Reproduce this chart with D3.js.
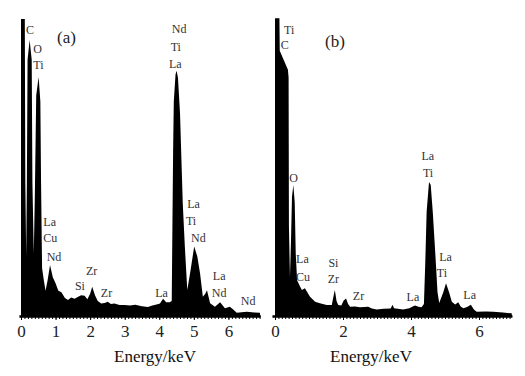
<!DOCTYPE html>
<html lang="en">
<head>
<meta charset="UTF-8" />
<title>EDS spectra</title>
<style>
  body { margin: 0; background: #fff; }
  svg text { font-family: "Liberation Serif", "Times New Roman", "DejaVu Serif", serif; }
  .peak { fill: #000; }
  .el { font-size: 12px; fill: #333; }
  .tag { font-size: 17px; fill: #222; }
  .axis path { stroke: #000; stroke-width: 2.5; }
  .axis line { stroke: #000; stroke-width: 1; }
  .axis text { font-size: 17px; fill: #222; }
  .xtitle { font-size: 17px; fill: #111; text-anchor: middle; }
</style>
</head>
<body>
<script src="https://cdn.jsdelivr.net/npm/d3@7"></script>
<script>
var serif = "Liberation Serif, Times New Roman, serif";

// spectrum (a): [energy keV, relative intensity]
var specA = [
  [0.00, 0], [0.00, 99.7], [0.11, 99.7], [0.125, 45], [0.15, 20], [0.17, 45],
  [0.19, 86], [0.25, 92.6], [0.31, 86], [0.33, 45], [0.37, 21], [0.40, 40],
  [0.44, 74], [0.51, 80.2], [0.56, 72], [0.58, 45], [0.61, 16],
  [0.66, 12], [0.71, 8.5], [0.77, 12], [0.84, 17.1], [0.92, 13], [1.00, 11],
  [1.08, 8.5], [1.17, 8.0], [1.27, 6.0], [1.36, 5.4], [1.45, 6.2], [1.55, 5.8],
  [1.64, 6.4], [1.74, 7.0], [1.84, 6.8], [1.92, 5.6], [2.00, 7.5], [2.06, 9.8],
  [2.14, 7.0], [2.22, 5.0], [2.32, 4.2], [2.42, 4.4], [2.51, 4.8], [2.60, 4.0],
  [2.70, 4.2], [2.85, 3.7], [3.00, 3.7], [3.15, 3.5], [3.30, 3.8], [3.50, 3.3],
  [3.67, 3.0], [3.80, 3.5], [3.92, 3.9], [4.02, 4.2], [4.11, 5.8], [4.20, 4.6],
  [4.30, 4.6], [4.36, 5], [4.38, 30], [4.40, 55], [4.42, 72], [4.47, 81],
  [4.50, 82.3], [4.54, 80], [4.60, 68], [4.65, 49], [4.68, 37.6], [4.74, 23.2],
  [4.81, 8.7], [4.89, 14.3], [5.01, 23.3], [5.10, 20], [5.18, 14.3], [5.26, 6.5],
  [5.33, 7.5], [5.38, 8.6], [5.47, 4.3], [5.61, 3.1], [5.76, 4.6], [5.90, 2.6],
  [6.04, 3.1], [6.14, 2.2], [6.24, 1.1], [6.53, 1.4], [6.75, 1.2], [6.91, 1.1],
  [6.92, 0]
];

// spectrum (b)
var specB = [
  [0.00, 0], [0.00, 99.9], [0.13, 99.9], [0.14, 89], [0.38, 82.6], [0.40, 80],
  [0.41, 30], [0.44, 13], [0.47, 25], [0.50, 40], [0.54, 44], [0.58, 38],
  [0.61, 21], [0.65, 12], [0.74, 9.8], [0.79, 8.7], [0.88, 9.3], [0.95, 8],
  [1.03, 6.5], [1.18, 4.8], [1.32, 4.3], [1.52, 3.7], [1.67, 3.7], [1.71, 6],
  [1.76, 8.7], [1.81, 5], [1.86, 3.7], [1.95, 3.5], [2.02, 5.2], [2.09, 5.9],
  [2.15, 4], [2.21, 3.1], [2.35, 3.2], [2.50, 2.9], [2.62, 3.0], [2.74, 3.1],
  [2.85, 2.5], [2.99, 2.2], [3.20, 2.4], [3.40, 2.5], [3.46, 3.8], [3.50, 2.6],
  [3.77, 2.2], [3.95, 2.6], [4.05, 3.2], [4.12, 3.5], [4.22, 3.1], [4.31, 2.9],
  [4.38, 4], [4.42, 18], [4.46, 35], [4.53, 45], [4.58, 44], [4.64, 35],
  [4.72, 20], [4.78, 8], [4.83, 4.4], [4.95, 8], [5.03, 11], [5.12, 8],
  [5.20, 4.8], [5.30, 3.9], [5.39, 4.6], [5.46, 3.2], [5.54, 2.6], [5.65, 3.0],
  [5.76, 3.8], [5.85, 2.2], [5.93, 1.4], [6.20, 1.5], [6.42, 1.4], [6.70, 1.2],
  [6.96, 0.9], [6.97, 0]
];

// element labels: [text, energy, intensity] (left edge, baseline)
var labelsA = [
  ["C", 0.145, 94.6], ["O", 0.356, 88.3], ["Ti", 0.356, 82.9],
  ["Nd", 4.36, 95.0], ["Ti", 4.33, 88.8], ["La", 4.28, 83.2],
  ["La", 0.645, 30.2], ["Cu", 0.645, 24.7], ["Nd", 0.743, 18.6],
  ["Zr", 1.88, 13.8], ["Si", 1.56, 8.7], ["Zr", 2.31, 6.4],
  ["La", 3.88, 6.5], ["La", 4.81, 36.2], ["Ti", 4.77, 30.5],
  ["Nd", 4.92, 24.9], ["La", 5.55, 12.1], ["Nd", 5.52, 6.4],
  ["Nd", 6.36, 3.7]
];
var labelsB = [
  ["Ti", 0.265, 94.6], ["C", 0.168, 89.6], ["La", 4.31, 52.3],
  ["Ti", 4.35, 46.6], ["O", 0.42, 45.0], ["La", 0.62, 17.8],
  ["Cu", 0.62, 11.7], ["Si", 1.57, 16.5], ["Zr", 1.55, 11.1],
  ["Zr", 2.29, 5.4], ["La", 3.87, 5.2], ["La", 4.83, 18.6],
  ["Ti", 4.76, 13.1], ["La", 5.54, 5.7]
];

var ticksA = [0, 1, 2, 3, 4, 5, 6];
var ticksB = [0, 2, 4, 6];
var minorTicks = d3.range(0, 70).map(function(i) { return i / 10; });

var svg = d3.select("body").append("svg")
  .attr("width", 525).attr("height", 376);

var y = d3.scaleLinear().domain([0, 100]).range([316, 18]);

function panel(spec, labels, majors, x0, pxPerKeV, lo, hi, tag, tagPos, titleX) {
  var x = d3.scaleLinear().domain([lo, hi])
    .range([x0 + lo * pxPerKeV, x0 + hi * pxPerKeV]);
  var g = svg.append("g");

  var area = d3.area()
    .x(function(d) { return x(d[0]); })
    .y0(y(0))
    .y1(function(d) { return y(d[1]); });

  g.append("path").attr("class", "peak").datum(spec).attr("d", area);

  // minor ticks + thick axis line
  g.append("g").attr("class", "axis")
    .attr("transform", "translate(0," + y(0) + ")")
    .call(d3.axisBottom(x).tickValues(minorTicks).tickSize(3)
      .tickSizeOuter(0).tickFormat(""));

  // integer labels
  var major = g.append("g").attr("class", "axis")
    .attr("transform", "translate(0," + y(0) + ")")
    .call(d3.axisBottom(x).tickValues(majors).tickSize(4).tickPadding(5)
      .tickFormat(d3.format("d")));
  major.select(".domain").remove();
  major.attr("font-family", serif).attr("font-size", 17);

  g.selectAll("text.el").data(labels).enter().append("text")
    .attr("class", "el")
    .attr("font-family", serif)
    .attr("x", function(d) { return x(d[1]); })
    .attr("y", function(d) { return y(d[2]); })
    .text(function(d) { return d[0]; });

  g.append("text").attr("class", "tag").attr("font-family", serif)
    .attr("x", tagPos[0]).attr("y", tagPos[1]).text(tag);

  g.append("text").attr("class", "xtitle").attr("font-family", serif)
    .attr("x", titleX).attr("y", 362).text("Energy/keV");
}

panel(specA, labelsA, ticksA, 21, 34.57, -0.06, 6.92, "(a)", [57, 43], 155);
panel(specB, labelsB, ticksB, 275, 34, -0.09, 6.97, "(b)", [325, 47], 371);
</script>
</body>
</html>
